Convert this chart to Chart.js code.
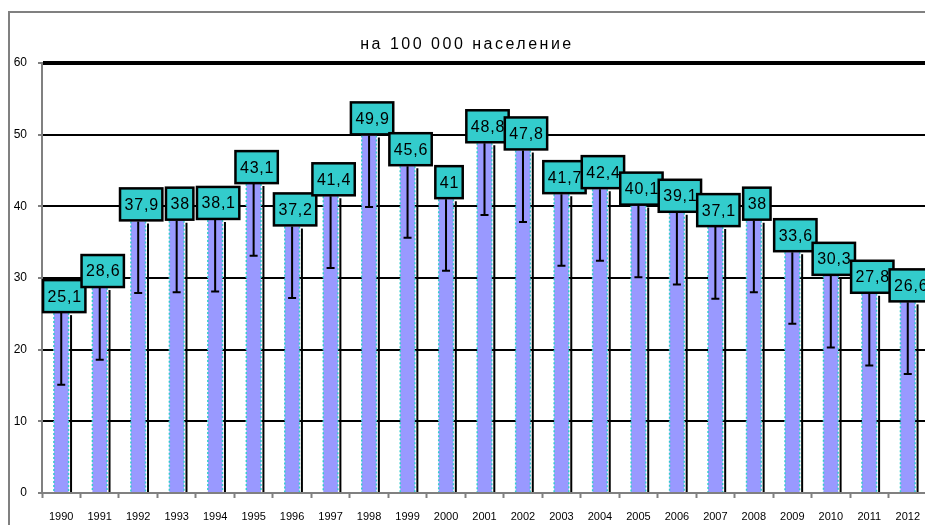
<!DOCTYPE html>
<html>
<head>
<meta charset="utf-8">
<script src="https://cdn.jsdelivr.net/npm/chart.js@4.4.0/dist/chart.umd.min.js"></script>
<style>
  html, body { margin: 0; padding: 0; background: #fff; overflow: hidden; }
  #wrap { width: 940px; height: 525px; }
</style>
</head>
<body>
<div id="wrap"><canvas id="myChart" width="940" height="525"></canvas></div>
<script>
// Данни
const godini = ["1990", "1991", "1992", "1993", "1994", "1995", "1996", "1997", "1998", "1999", "2000", "2001",
  "2002", "2003", "2004", "2005", "2006", "2007", "2008", "2009", "2010", "2011", "2012"];
const stoinosti = [25.1, 28.6, 37.9, 38, 38.1, 43.1, 37.2, 41.4, 49.9, 45.6, 41, 48.8,
  47.8, 41.7, 42.4, 40.1, 39.1, 37.1, 38, 33.6, 30.3, 27.8, 26.6];
const greshka = 10; // долна граница на грешката
const zaglavie = "на 100 000 население";

const fmt = (v) => String(v).replace(".", ",");

// рамка и заглавие
const ramka = {
  id: "ramka",
  beforeDraw(chart) {
    const c = chart.ctx;
    c.save();
    c.strokeStyle = "#808080";
    c.lineWidth = 2;
    c.beginPath();
    c.moveTo(9, 525);
    c.lineTo(9, 12);
    c.lineTo(chart.width, 12);
    c.stroke();
    c.fillStyle = "#000";
    c.font = "16px 'Liberation Sans', Arial, sans-serif";
    c.letterSpacing = "2.5px";
    c.textAlign = "center";
    c.textBaseline = "middle";
    c.fillText(zaglavie, 467, 45);
    c.restore();
  }
};

// ръбове, грешки и етикети
const stulbove = {
  id: "stulbove",
  afterDatasetsDraw(chart) {
    const c = chart.ctx;
    const y = chart.scales.y;
    const meta = chart.getDatasetMeta(0);
    c.save();
    meta.data.forEach((bar, i) => {
      const half = bar.width / 2;
      const l = bar.x - half, r = bar.x + half;
      // пунктирани ръбове
      c.strokeStyle = "#33cccc";
      c.lineWidth = 1.5;
      c.setLineDash([2, 2]);
      c.beginPath();
      c.moveTo(l, bar.y); c.lineTo(l, bar.base);
      c.moveTo(r, bar.y); c.lineTo(r, bar.base);
      c.stroke();
      c.setLineDash([]);
      // черна сянка вдясно
      c.strokeStyle = "#000";
      c.lineWidth = 2;
      c.beginPath();
      c.moveTo(r + 2.5, bar.y + 2); c.lineTo(r + 2.5, bar.base);
      c.stroke();
      // грешка
      const yLow = y.getPixelForValue(stoinosti[i] - greshka);
      c.beginPath();
      c.moveTo(bar.x, bar.y); c.lineTo(bar.x, yLow);
      c.moveTo(bar.x - 4, yLow); c.lineTo(bar.x + 4, yLow);
      c.stroke();
    });
    // етикети
    c.font = "16px 'Liberation Sans', Arial, sans-serif";
    c.letterSpacing = "0.8px";
    c.textAlign = "center";
    c.textBaseline = "middle";
    meta.data.forEach((bar, i) => {
      const txt = fmt(stoinosti[i]);
      const w = c.measureText(txt).width + 8;
      const h = 32;
      const cx = bar.x + 3;
      const bottom = bar.y - 1;
      c.fillStyle = "#33cccc";
      c.fillRect(cx - w / 2, bottom - h, w, h);
      c.strokeStyle = "#000";
      c.lineWidth = 2.5;
      c.strokeRect(cx - w / 2, bottom - h, w, h);
      c.fillStyle = "#000";
      c.fillText(txt, cx + 0.5, bottom - h / 2 + 1);
    });
    c.restore();
  }
};

const ctx = document.getElementById("myChart").getContext("2d");
const grafika = new Chart(ctx, {
  type: "bar",
  data: {
    labels: godini,
    datasets: [{
      data: stoinosti,
      backgroundColor: "#9999ff",
      borderWidth: 0,
      barPercentage: 0.38,
      categoryPercentage: 1
    }]
  },
  options: {
    responsive: false,
    animation: false,
    layout: { padding: { top: 63, right: 13, left: 0, bottom: 0 } },
    plugins: {
      legend: { display: false },
      tooltip: { enabled: false }
    },
    scales: {
      x: {
        afterFit(scale) { scale.height = 32; },
        grid: {
          offset: true,
          drawOnChartArea: false,
          tickLength: 5,
          tickColor: "#808080",
          tickWidth: 2
        },
        border: { color: "#808080", width: 2 },
        ticks: {
          color: "#000",
          padding: 12,
          maxRotation: 0,
          autoSkip: false,
          font: { family: "'Liberation Sans', Arial, sans-serif", size: 11 }
        }
      },
      y: {
        min: 0,
        max: 60,
        afterFit(scale) { scale.width = 42; },
        grid: {
          color: "#000",
          lineWidth: (c) => (c.tick && c.tick.value === 60 ? 4 : 2),
          tickLength: 4,
          tickColor: "#808080",
          tickWidth: 2
        },
        border: { color: "#808080", width: 2 },
        ticks: {
          stepSize: 10,
          color: "#000",
          padding: 11,
          font: { family: "'Liberation Sans', Arial, sans-serif", size: 12 }
        }
      }
    }
  },
  plugins: [ramka, stulbove]
});
</script>
</body>
</html>
